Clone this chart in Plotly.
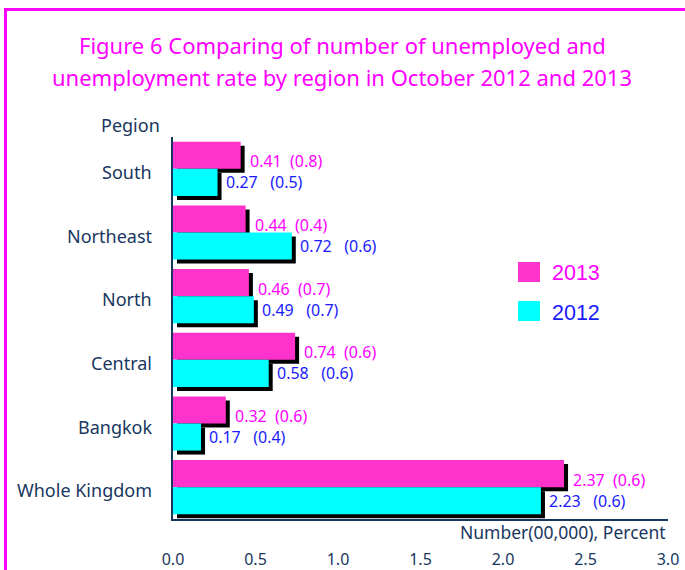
import plotly.graph_objects as go

regions = ["South", "Northeast", "North", "Central", "Bangkok", "Whole Kingdom"]
num_2013 = [0.41, 0.44, 0.46, 0.74, 0.32, 2.37]
rate_2013 = [0.8, 0.4, 0.7, 0.6, 0.6, 0.6]
num_2012 = [0.27, 0.72, 0.49, 0.58, 0.17, 2.23]
rate_2012 = [0.5, 0.6, 0.7, 0.6, 0.4, 0.6]
x_ticks = [0.0, 0.5, 1.0, 1.5, 2.0, 2.5, 3.0]

PINK = "#FF33CC"
CYAN = "#00FFFF"
BLUE = "#1a1aff"
NAVY = "#17375E"
MAG = "#FF00FF"
FONT = "Noto Sans"

W, H = 685, 570
L, R, T, B = 173, 17, 137, 51
pw, ph = W - L - R, H - T - B

def px(x):
    return (x - L) / pw

def py(y):
    return (H - B - y) / ph

idx = list(range(len(regions)))
bw = 0.425
dx = 4 / (pw / 3.0)
dy = 4 / (ph / 6.0)

fig = go.Figure()
# shadows
for vals, off in [(num_2013, -bw), (num_2012, 0)]:
    fig.add_trace(go.Bar(
        x=vals, y=[i + dy for i in idx], base=dx, orientation="h",
        offset=off, width=bw, marker=dict(color="black", line=dict(width=0)),
        showlegend=False, hoverinfo="skip"))
fig.add_trace(go.Bar(
    x=num_2013, y=idx, orientation="h", offset=-bw, width=bw, name="2013",
    marker=dict(color=PINK, line=dict(width=0)), showlegend=False))
fig.add_trace(go.Bar(
    x=num_2012, y=idx, orientation="h", offset=0, width=bw, name="2012",
    marker=dict(color=CYAN, line=dict(width=0)), showlegend=False))

annotations = []
NB = "\u00a0"
for i, (v, r) in enumerate(zip(num_2013, rate_2013)):
    annotations.append(dict(
        x=v, y=i - bw / 2, xref="x", yref="y", xanchor="left", yanchor="middle",
        xshift=7, yshift=-6, showarrow=False,
        text=f"{v:.2f}{NB*2}({r})", font=dict(family=FONT, size=16, color=MAG)))
for i, (v, r) in enumerate(zip(num_2012, rate_2012)):
    annotations.append(dict(
        x=v, y=i + bw / 2, xref="x", yref="y", xanchor="left", yanchor="middle",
        xshift=6, yshift=0, showarrow=False,
        text=f"{v:.2f}{NB*3}({r})", font=dict(family=FONT, size=16, color=BLUE)))
# category labels
for i, name in enumerate(regions):
    annotations.append(dict(
        x=px(154), y=i, xref="paper", yref="y", xanchor="right", yanchor="middle",
        yshift=-3, showarrow=False, text=name,
        font=dict(family=FONT, size=18, color=NAVY)))

# title
annotations.append(dict(x=px(342), y=py(45), xref="paper", yref="paper",
    text="Figure 6 Comparing of number of unemployed and", showarrow=False,
    xanchor="center", yanchor="middle", font=dict(family=FONT, size=22, color=MAG)))
annotations.append(dict(x=px(342), y=py(77), xref="paper", yref="paper",
    text="unemployment rate by region in October 2012 and 2013", showarrow=False,
    xanchor="center", yanchor="middle", font=dict(family=FONT, size=22, color=MAG)))
# axis titles
annotations.append(dict(x=px(162), y=py(125), xref="paper", yref="paper", text="Pegion",
    showarrow=False, xanchor="right", yanchor="middle",
    font=dict(family=FONT, size=18, color=NAVY)))
annotations.append(dict(x=px(668), y=py(532), xref="paper", yref="paper",
    text="Number(00,000), Percent", showarrow=False, xanchor="right", yanchor="middle",
    font=dict(family=FONT, size=17.5, color=NAVY)))
# legend
annotations.append(dict(x=px(550), y=py(273), xref="paper", yref="paper", text="2013",
    showarrow=False, xanchor="left", yanchor="middle",
    font=dict(family="Liberation Sans", size=21.5, color=MAG)))
annotations.append(dict(x=px(550), y=py(313), xref="paper", yref="paper", text="2012",
    showarrow=False, xanchor="left", yanchor="middle",
    font=dict(family="Liberation Sans", size=21.5, color=BLUE)))

shapes = [
    dict(type="rect", xref="paper", yref="paper", x0=px(518), x1=px(540),
         y0=py(282), y1=py(262), fillcolor=PINK, line=dict(width=0)),
    dict(type="rect", xref="paper", yref="paper", x0=px(518), x1=px(540),
         y0=py(321), y1=py(301), fillcolor=CYAN, line=dict(width=0)),
    # frame
    dict(type="line", xref="paper", yref="paper", x0=px(5.5), x1=px(5.5),
         y0=py(8), y1=py(575), line=dict(color=MAG, width=3)),
    dict(type="line", xref="paper", yref="paper", x0=px(4), x1=px(690),
         y0=py(9.5), y1=py(9.5), line=dict(color=MAG, width=3)),
]

fig.update_layout(
    width=W, height=H, margin=dict(l=L, r=R, t=T, b=B, pad=0, autoexpand=False),
    paper_bgcolor="white", plot_bgcolor="white", barmode="overlay",
    annotations=annotations, shapes=shapes, showlegend=False,
    xaxis=dict(range=[0, 3.0], tickvals=x_ticks, ticktext=[f"{t:.1f}" for t in x_ticks],
               showgrid=False, zeroline=False, showline=True, linecolor=NAVY, linewidth=1.5,
               ticks="", ticklabelstandoff=25, automargin=False,
               tickfont=dict(family=FONT, size=16, color=NAVY)),
    yaxis=dict(range=[5.5, -0.5], tickvals=idx, showticklabels=False, showgrid=False,
               zeroline=False, showline=True, linecolor=NAVY, linewidth=1.5, ticks="",
               automargin=False),
)

fig.write_html("out.html")
